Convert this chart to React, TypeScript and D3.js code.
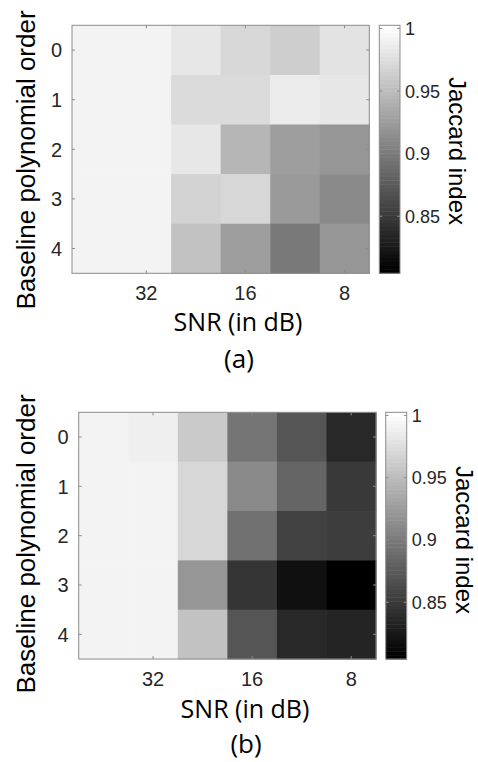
import React from "react";
import * as d3 from "d3";

// ---------- data ----------
const rowLabels = ["0", "1", "2", "3", "4"];
const columnIndex = [0, 1, 2, 3, 4, 5];
const xTickColumns = [1, 3, 5];
const xTickLabels = ["32", "16", "8"];
const colorTicks = [0.85, 0.9, 0.95, 1];
const colorTickLabels = ["0.85", "0.9", "0.95", "1"];
const colorDomain = [0.8045, 1.0025];

// Jaccard index, rows = baseline polynomial order, columns = SNR (high -> low)
const jaccardA = [
  [0.992, 0.992, 0.983, 0.971, 0.964, 0.979],
  [0.992, 0.992, 0.974, 0.972, 0.987, 0.983],
  [0.992, 0.992, 0.983, 0.944, 0.927, 0.92],
  [0.992, 0.992, 0.966, 0.971, 0.923, 0.911],
  [0.992, 0.992, 0.956, 0.927, 0.9, 0.92],
];
const jaccardB = [
  [0.992, 0.989, 0.961, 0.897, 0.871, 0.836],
  [0.992, 0.992, 0.97, 0.911, 0.882, 0.848],
  [0.992, 0.992, 0.97, 0.894, 0.854, 0.852],
  [0.992, 0.992, 0.921, 0.846, 0.819, 0.806],
  [0.992, 0.992, 0.955, 0.87, 0.837, 0.834],
];

const LEVELS = 64;
const grayLevels = d3.range(LEVELS).map((i) => {
  const g = Math.round((255 * i) / (LEVELS - 1));
  return d3.rgb(g, g, g).formatHex();
});
const colorScale = d3.scaleQuantize<string>().domain(colorDomain).range(grayLevels);

const AXIS_FONT = "Liberation Sans, Arial, sans-serif";
const CAPTION_FONT = "Open Sans, sans-serif";
const TEXT = "#262626";
const BORDER = "#8c8c8c";

type Layout = {
  px: number; py: number; pw: number; ph: number;
  cbx: number; cbw: number;
  ylabX: number; ylabY: number;
  jacX: number; jacY: number;
  snrX: number; snrY: number;
  tagX: number; tagY: number;
};

const layoutA: Layout = {
  px: 72, py: 25.3, pw: 297.3, ph: 248,
  cbx: 379.3, cbw: 20.7,
  ylabX: 35, ylabY: 160,
  jacX: 449, jacY: 151,
  snrX: 238, snrY: 331,
  tagX: 239, tagY: 368,
};
const layoutB: Layout = {
  px: 78.7, py: 412.3, pw: 297.3, ph: 246.7,
  cbx: 385.7, cbw: 21,
  ylabX: 35, ylabY: 544,
  jacX: 456, jacY: 540,
  snrX: 245, snrY: 718,
  tagX: 246, tagY: 753,
};

function Panel({ data, L, tag }: { data: number[][]; L: Layout; tag: string }) {
  const x = d3.scaleBand<number>().domain(columnIndex).range([L.px, L.px + L.pw]).padding(0);
  const y = d3.scaleBand<string>().domain(rowLabels).range([L.py, L.py + L.ph]).padding(0);
  const cy = d3.scaleLinear().domain(colorDomain).range([L.py + L.ph, L.py]);
  const tickLen = 3;
  const levelEdges = d3.range(LEVELS + 1).map(
    (i) => colorDomain[0] + ((colorDomain[1] - colorDomain[0]) * i) / LEVELS
  );
  return (
    <g>
      {/* cells */}
      {data.map((row, r) =>
        row.map((v, c) => (
          <rect
            key={`${r}-${c}`}
            x={x(c)}
            y={y(rowLabels[r])}
            width={x.bandwidth() + 0.5}
            height={y.bandwidth() + 0.5}
            fill={colorScale(v)}
          />
        ))
      )}
      {/* frame */}
      <rect x={L.px} y={L.py} width={L.pw} height={L.ph} fill="none" stroke={BORDER} strokeWidth={1} />
      {/* x ticks */}
      {xTickColumns.map((c, i) => {
        const cx = (x(c) as number) + x.bandwidth() / 2;
        return (
          <g key={`xt${i}`}>
            <line x1={cx} x2={cx} y1={L.py + L.ph} y2={L.py + L.ph - tickLen} stroke={BORDER} />
            <line x1={cx} x2={cx} y1={L.py} y2={L.py + tickLen} stroke={BORDER} />
            <text x={cx} y={L.py + L.ph + 26.5} textAnchor="middle" fontFamily={AXIS_FONT} fontSize={20} fill={TEXT}>
              {xTickLabels[i]}
            </text>
          </g>
        );
      })}
      {/* y ticks */}
      {rowLabels.map((lab) => {
        const cyy = (y(lab) as number) + y.bandwidth() / 2;
        return (
          <g key={`yt${lab}`}>
            <line x1={L.px} x2={L.px + tickLen} y1={cyy} y2={cyy} stroke={BORDER} />
            <line x1={L.px + L.pw} x2={L.px + L.pw - tickLen} y1={cyy} y2={cyy} stroke={BORDER} />
            <text x={L.px - 10} y={cyy} dy="0.36em" textAnchor="end" fontFamily={AXIS_FONT} fontSize={20} fill={TEXT}>
              {lab}
            </text>
          </g>
        );
      })}
      {/* colorbar */}
      {d3.range(LEVELS).map((i) => (
        <rect
          key={`cb${i}`}
          x={L.cbx}
          y={cy(levelEdges[i + 1])}
          width={L.cbw}
          height={cy(levelEdges[i]) - cy(levelEdges[i + 1]) + 0.5}
          fill={grayLevels[i]}
        />
      ))}
      <rect x={L.cbx} y={L.py} width={L.cbw} height={L.ph} fill="none" stroke={BORDER} strokeWidth={1} />
      {colorTicks.map((t, i) => (
        <g key={`ct${i}`}>
          <line x1={L.cbx + L.cbw} x2={L.cbx + L.cbw - tickLen} y1={cy(t)} y2={cy(t)} stroke={BORDER} />
          <line x1={L.cbx} x2={L.cbx + tickLen} y1={cy(t)} y2={cy(t)} stroke={BORDER} />
          <text x={L.cbx + L.cbw + 5} y={cy(t)} dy="0.36em" fontFamily={AXIS_FONT} fontSize={18} fill={TEXT}>
            {colorTickLabels[i]}
          </text>
        </g>
      ))}
      {/* labels */}
      <text
        transform={`translate(${L.ylabX},${L.ylabY}) rotate(-90)`}
        textAnchor="middle"
        fontFamily={AXIS_FONT}
        fontSize={26}
        fill="#000"
      >
        Baseline polynomial order
      </text>
      <text
        transform={`translate(${L.jacX},${L.jacY}) rotate(90)`}
        textAnchor="middle"
        fontFamily={AXIS_FONT}
        fontSize={24}
        fill="#000"
      >
        Jaccard index
      </text>
      <text x={L.snrX} y={L.snrY} textAnchor="middle" fontFamily={CAPTION_FONT} fontSize={25} fill="#000">
        SNR (in dB)
      </text>
      <text x={L.tagX} y={L.tagY} textAnchor="middle" fontFamily={CAPTION_FONT} fontSize={26} fill="#000">
        {tag}
      </text>
    </g>
  );
}

export default function App() {
  return (
    <svg
      width={478}
      height={762}
      style={{ position: "absolute", left: 0, top: 0, background: "#fff" }}
    >
      <rect width={478} height={762} fill="#fff" />
      <Panel data={jaccardA} L={layoutA} tag="(a)" />
      <Panel data={jaccardB} L={layoutB} tag="(b)" />
    </svg>
  );
}
